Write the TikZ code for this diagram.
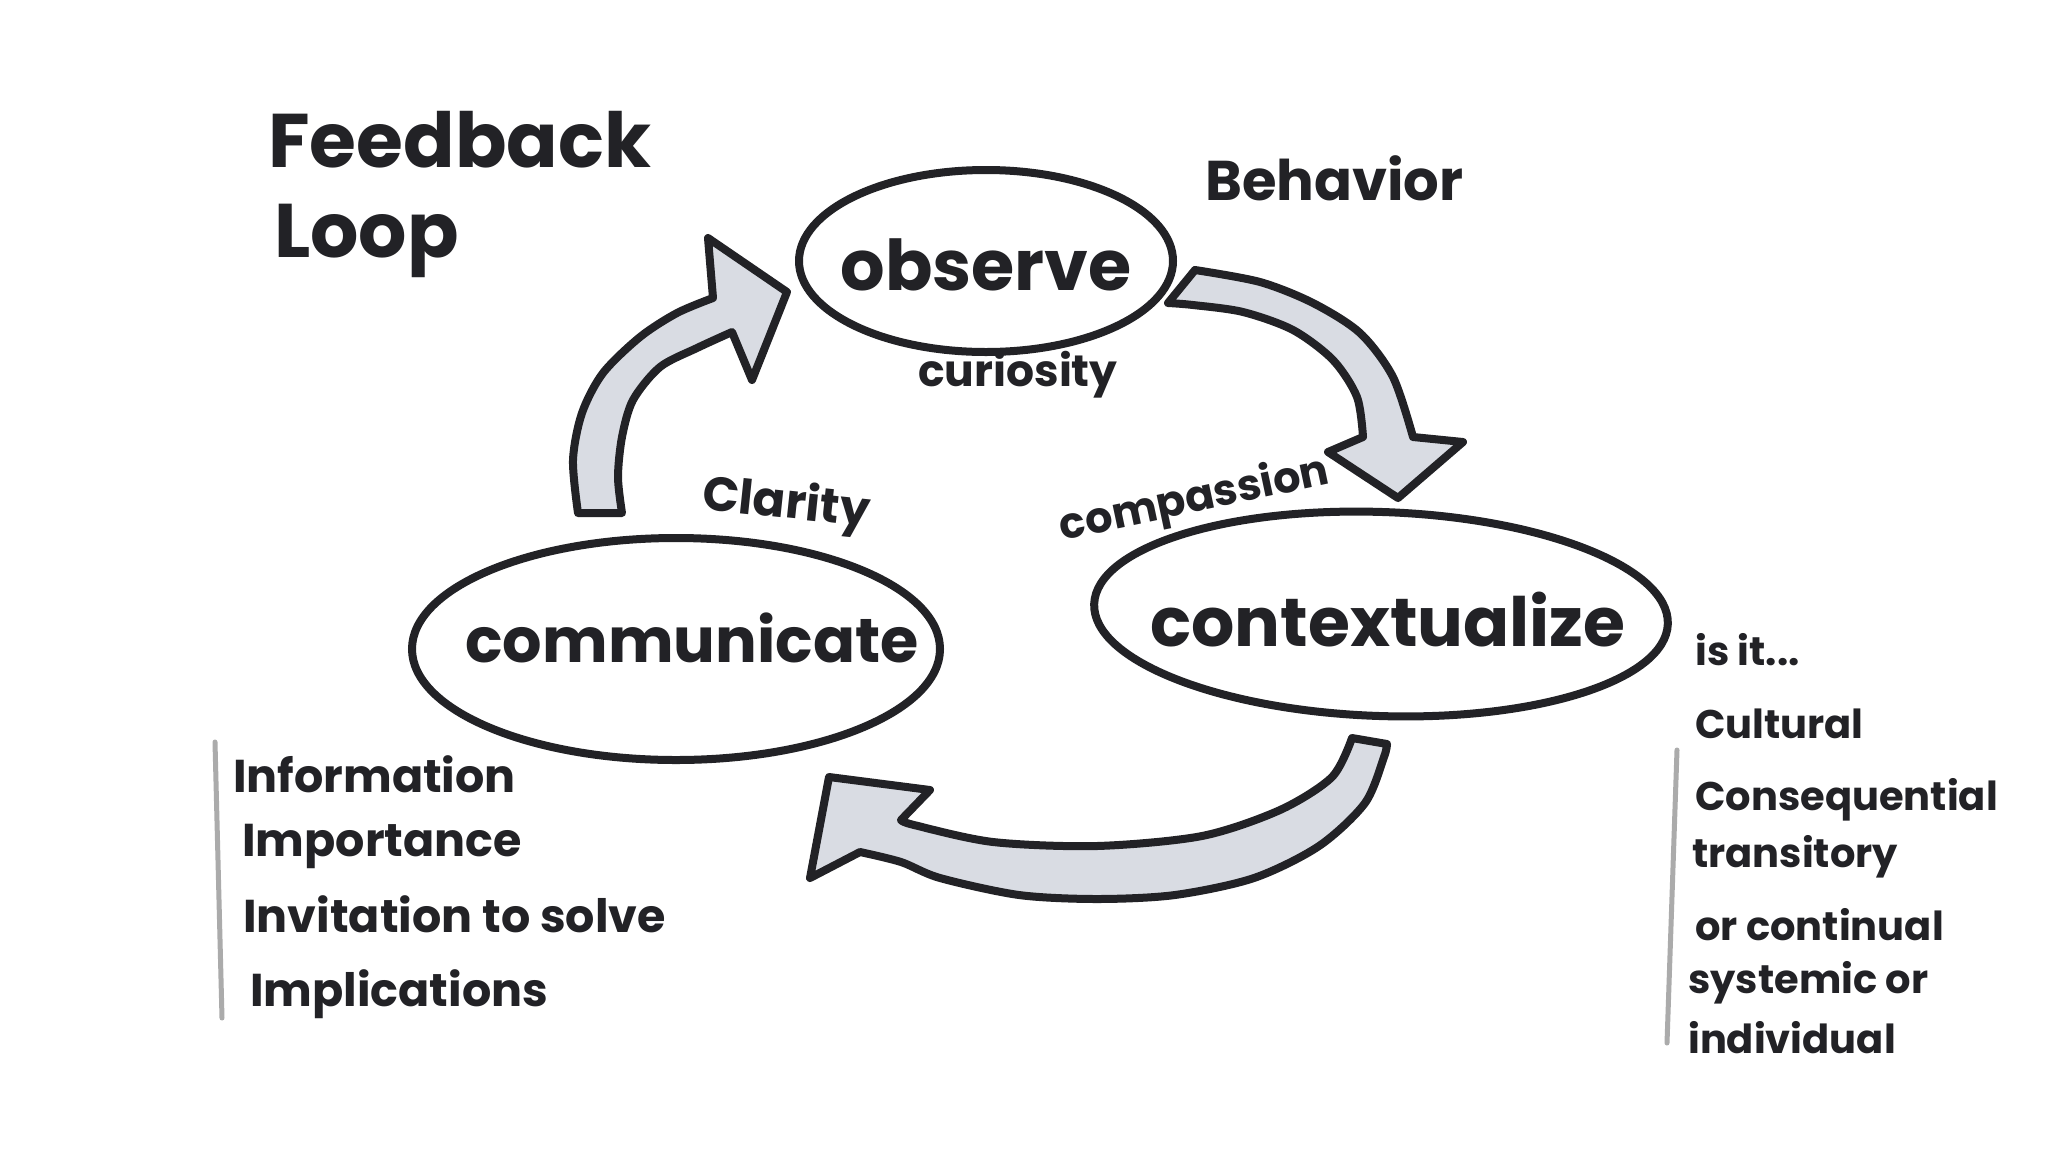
\documentclass[tikz,border=0pt]{standalone}
\usepackage{fontspec}
\setmainfont{Poppins}
\usetikzlibrary{shapes.geometric}
\definecolor{arrowfill}{HTML}{D9DCE3}
\definecolor{barcol}{HTML}{ABABAB}
\definecolor{ink}{HTML}{222226}
\newcommand\myfs[1]{\fontsize{#1}{#1}\selectfont}
\begin{document}
\begin{tikzpicture}[x=1pt,y=-1pt,
  bubble/.style={draw=ink, line width=8pt, ellipse, inner sep=0pt},
  bigarrow/.style={draw=ink, line width=8pt, fill=arrowfill, line join=round},
  bar/.style={draw=barcol, line width=5pt, line cap=round},
  txt/.style={inner sep=0pt, text=ink},
  main/.style={txt, font=\myfs{68}\bfseries},
  side/.style={txt, font=\myfs{46}\bfseries, anchor=base west},
  rside/.style={txt, font=\myfs{40}\bfseries, anchor=base west}]
\fill[white] (0,0) rectangle (2048,1152);
\useasboundingbox (0,0) rectangle (2048,1152);

% title
\node[txt, font=\myfs{76}\bfseries, anchor=base west] (t1) at (268,167) {Feedback};
\node[txt, font=\myfs{76}\bfseries, anchor=base west] (t2) at (274,257) {Loop};

% ellipses
\node[bubble, minimum width=374pt, minimum height=182pt] (obs) at (986,261) {};
\node[bubble, minimum width=528pt, minimum height=222pt] (com) at (676,649) {};
\node[bubble, minimum width=574pt, minimum height=204pt, rotate=-2] (ctx) at (1381,614) {};

\node[main, font=\myfs{70}\bfseries, anchor=base] (obst) at (986,290) {observe};
\node[main, font=\myfs{62}\bfseries, anchor=base] (comt) at (692,662) {communicate};
\node[main, anchor=base] (ctxt) at (1388,646) {contextualize};

% arrows
\path[bigarrow] (578,513) -- plot[smooth] coordinates {(578,513) (573,460) (582,413) (603,373) (640,337) (677,313) (713,298)}
  -- (708,238) -- (787,292) -- (752,380) -- (732,332)
  -- plot[smooth] coordinates {(732,332) (697,348) (660,367) (633,400) (622,437) (618,477) (622,513)} -- cycle;

\path[bigarrow] (1168,303) -- (1195,270)
  -- plot[smooth] coordinates {(1195,270) (1260,282) (1313,303) (1360,333) (1393,377) (1413,437)}
  -- (1463,442) -- (1398,498) -- (1328,452) -- (1363,437)
  -- plot[smooth] coordinates {(1363,437) (1357,397) (1333,360) (1293,330) (1243,312) (1193,305) (1168,303)} -- cycle;

\path[bigarrow] (1352,738) -- (1387,744)
  -- plot[smooth] coordinates {(1387,744) (1384,757) (1365,803) (1319,846) (1254,878) (1175,895) (1097,899) (1019,895) (940,878) (901,862) (860,852)}
  -- (810,878) -- (829,777) -- (930,790) -- (901,820)
  -- plot[smooth] coordinates {(901,820) (914,825) (993,842) (1097,846) (1202,836) (1280,810) (1332,777) (1352,738)} -- cycle;

% labels round the loop
\node[txt, font=\myfs{56}\bfseries, anchor=base west] (beh) at (1205,200) {Behavior};
\node[txt, font=\myfs{44}\bfseries\addfontfeature{Kerning=Off}, anchor=base] (cur) at (1018,386) {curiosity};
\node[txt, font=\myfs{43}\bfseries, anchor=base, rotate=12] (cmp) at (1197,512) {compassion};
\node[txt, font=\myfs{48}\bfseries\addfontfeature{Kerning=Off}, anchor=base, rotate=-6] (cla) at (785,518) {Clarity};

% left list
\draw[bar] (215,742) -- (222,1018);
\node[side] (l1) at (233,792) {Information};
\node[side] (l2) at (242,856) {Importance};
\node[side] (l3) at (243,932) {Invitation to solve};
\node[side] (l4) at (250,1006) {Implications};

% right list
\draw[bar] (1677,750) -- (1667,1043);
\node[rside] (r0) at (1695,665) {is it...};
\node[rside] (r1) at (1695,738) {Cultural};
\node[rside] (r2) at (1695,810) {Consequential};
\node[rside] (r3) at (1692,867) {transitory};
\node[rside] (r4) at (1695,940) {or continual};
\node[rside] (r5) at (1688,993) {systemic or};
\node[rside] (r6) at (1688,1053) {individual};
\end{tikzpicture}
\end{document}
